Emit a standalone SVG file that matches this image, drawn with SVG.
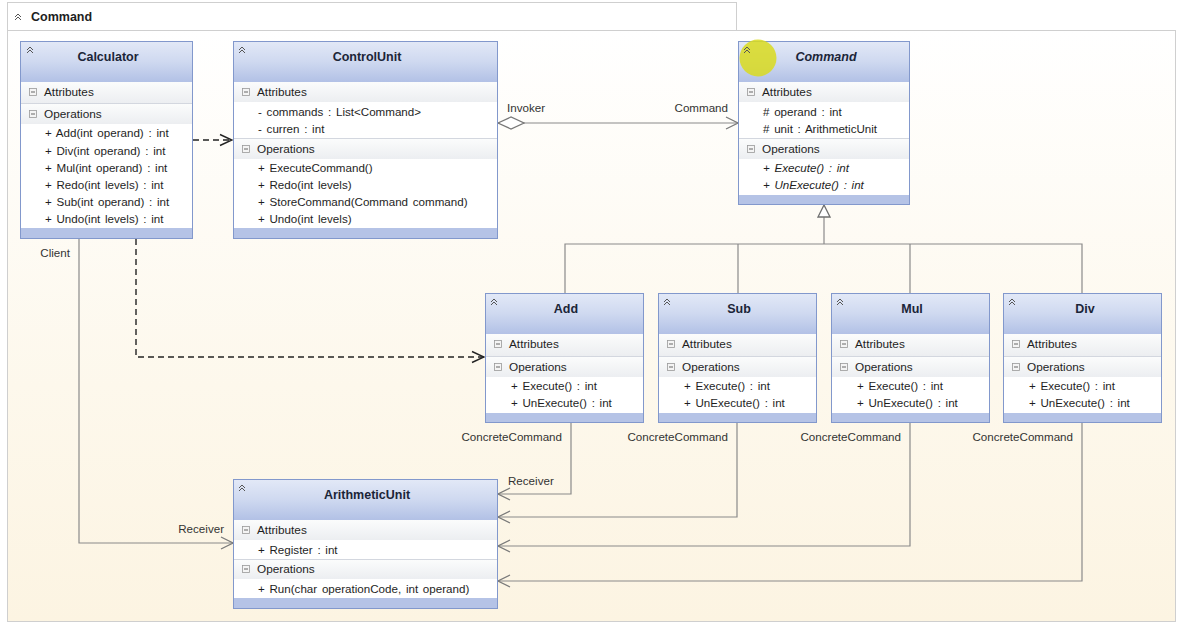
<svg xmlns="http://www.w3.org/2000/svg" width="1187" height="625" viewBox="0 0 1187 625">
<defs>
<linearGradient id="bg" x1="0" y1="0" x2="0" y2="1"><stop offset="0" stop-color="#ffffff"/><stop offset="0.6" stop-color="#fdf8ec"/><stop offset="1" stop-color="#fcf4e2"/></linearGradient>
<linearGradient id="hdr" x1="0" y1="0" x2="0" y2="1"><stop offset="0" stop-color="#e3e9f7"/><stop offset="0.5" stop-color="#cfd9f0"/><stop offset="1" stop-color="#b2c1e6"/></linearGradient>
<linearGradient id="sec" x1="0" y1="0" x2="0" y2="1"><stop offset="0" stop-color="#fbfcfc"/><stop offset="1" stop-color="#eceef1"/></linearGradient>
<marker id="open" viewBox="0 0 14 14" refX="13" refY="7" markerWidth="14" markerHeight="14" orient="auto" markerUnits="userSpaceOnUse"><path d="M1,1 L13,7 L1,13" fill="none" stroke="#7a7a7a" stroke-width="1.3"/></marker>
<marker id="openDark" viewBox="0 0 14 14" refX="13" refY="7" markerWidth="14" markerHeight="14" orient="auto" markerUnits="userSpaceOnUse"><path d="M1,1.5 L13,7 L1,12.5" fill="none" stroke="#222" stroke-width="1.4"/></marker>
<marker id="tri" viewBox="0 0 14 14" refX="13" refY="7" markerWidth="14" markerHeight="14" orient="auto" markerUnits="userSpaceOnUse"><path d="M1,1 L13,7 L1,13 Z" fill="#fff" stroke="#707070" stroke-width="1.3"/></marker>
<marker id="dia" viewBox="0 0 28 14" refX="1" refY="7" markerWidth="28" markerHeight="14" orient="auto" markerUnits="userSpaceOnUse"><path d="M1,7 L14,1 L27,7 L14,13 Z" fill="#fff" stroke="#777" stroke-width="1.3"/></marker>
</defs>
<style>
text{font-family:"Liberation Sans",Arial,sans-serif;fill:#1e1e1e}
.t{font-size:12.5px;font-weight:bold;text-anchor:middle;fill:#1b2538}
.s{font-size:11.8px}
.i{font-size:11.6px;word-spacing:1.5px}
.it{font-style:italic}
.lab{font-size:11.6px;fill:#333}
.end{text-anchor:end}
.box{fill:none;stroke:#8298cc;stroke-width:1}
.body{fill:#fff}
.hd{fill:url(#hdr)}
.sr{fill:url(#sec)}
.ft{fill:#b5c3e6}
.sep{stroke:#d3d7df;stroke-width:1}
.chev{fill:none;stroke:#555;stroke-width:1}
.ic{fill:#f4f4f4;stroke:#9a9a9a;stroke-width:0.8}
.icl{stroke:#666;stroke-width:1}
.solid{fill:none;stroke:#8a8a8a;stroke-width:1.2}
.dash{fill:none;stroke:#222;stroke-width:1.4;stroke-dasharray:6,4}
</style>
<rect x="0" y="0" width="1187" height="625" fill="#fff"/>
<rect x="7.5" y="30.5" width="1168" height="591" fill="url(#bg)" stroke="#cfcfcf"/>
<rect x="7.5" y="2.5" width="729" height="28" fill="#fff" stroke="#cfcfcf"/>
<path class="chev" d="M15,17 L18,14 L21,17 M15,20 L18,17 L21,20"/>
<text x="31" y="21" style="font-size:12.5px;font-weight:bold">Command</text>

<g id="connectors">
<path class="dash" d="M193,140 H232" marker-end="url(#openDark)"/>
<path class="dash" d="M136,239 V357 H484" marker-end="url(#openDark)"/>
<path class="solid" d="M79,239 V543 H233" marker-end="url(#open)"/>
<path class="solid" d="M498,123 H738" marker-start="url(#dia)" marker-end="url(#open)"/>
<path class="solid" d="M824,244 V205" marker-end="url(#tri)"/>
<path class="solid" d="M565,293 V244 H1082 V293 M738,244 V293 M910,244 V293"/>
<path class="solid" d="M571,423 V494 H498" marker-end="url(#open)"/>
<path class="solid" d="M737,423 V517 H498" marker-end="url(#open)"/>
<path class="solid" d="M910,423 V546 H498" marker-end="url(#open)"/>
<path class="solid" d="M1082,423 V581 H498" marker-end="url(#open)"/>
<text class="lab end" x="70" y="257">Client</text>
<text class="lab end" x="224" y="533">Receiver</text>
<text class="lab" x="507" y="112">Invoker</text>
<text class="lab end" x="728" y="112">Command</text>
<text class="lab end" x="562" y="441">ConcreteCommand</text>
<text class="lab end" x="728" y="441">ConcreteCommand</text>
<text class="lab end" x="901" y="441">ConcreteCommand</text>
<text class="lab end" x="1073" y="441">ConcreteCommand</text>
<text class="lab" x="508" y="485">Receiver</text>
</g>

<g id="calculator">
<rect class="body" x="20" y="41" width="173" height="198"/>
<rect class="hd" x="20" y="41" width="173" height="41"/>
<rect class="sr" x="20" y="82" width="173" height="21"/>
<rect class="sr" x="20" y="104" width="173" height="20"/>
<line class="sep" x1="20" y1="103.5" x2="193" y2="103.5"/>
<rect class="ft" x="20" y="228" width="173" height="11"/>
<rect class="box" x="20.5" y="41.5" width="172" height="197"/>
<path class="chev" d="M27,50 L30,47 L33,50 M27,53 L30,50 L33,53"/>
<text class="t" x="108" y="61">Calculator</text>
<rect class="ic" x="29.5" y="88.5" width="7" height="7"/><line class="icl" x1="31" y1="92" x2="35" y2="92"/>
<text class="s" x="44" y="96">Attributes</text>
<rect class="ic" x="29.5" y="110.5" width="7" height="7"/><line class="icl" x1="31" y1="114" x2="35" y2="114"/>
<text class="s" x="44" y="118">Operations</text>
<text class="i" x="45" y="137">+ Add(int operand) : int</text>
<text class="i" x="45" y="155">+ Div(int operand) : int</text>
<text class="i" x="45" y="172">+ Mul(int operand) : int</text>
<text class="i" x="45" y="189">+ Redo(int levels) : int</text>
<text class="i" x="45" y="206">+ Sub(int operand) : int</text>
<text class="i" x="45" y="223">+ Undo(int levels) : int</text>
</g>

<g id="controlunit">
<rect class="body" x="233" y="41" width="265" height="198"/>
<rect class="hd" x="233" y="41" width="265" height="41"/>
<rect class="sr" x="233" y="82" width="265" height="20"/>
<rect class="sr" x="233" y="139" width="265" height="20"/>
<line class="sep" x1="233" y1="138.5" x2="498" y2="138.5"/>
<rect class="ft" x="233" y="228" width="265" height="11"/>
<rect class="box" x="233.5" y="41.5" width="264" height="197"/>
<path class="chev" d="M239,50 L242,47 L245,50 M239,53 L242,50 L245,53"/>
<text class="t" x="367" y="61">ControlUnit</text>
<rect class="ic" x="242.5" y="88.5" width="7" height="7"/><line class="icl" x1="244" y1="92" x2="248" y2="92"/>
<text class="s" x="257" y="96">Attributes</text>
<text class="i" x="258" y="116">- commands : List&lt;Command&gt;</text>
<text class="i" x="258" y="133">- curren : int</text>
<rect class="ic" x="242.5" y="145.5" width="7" height="7"/><line class="icl" x1="244" y1="149" x2="248" y2="149"/>
<text class="s" x="257" y="153">Operations</text>
<text class="i" x="258" y="172">+ ExecuteCommand()</text>
<text class="i" x="258" y="189">+ Redo(int levels)</text>
<text class="i" x="258" y="206">+ StoreCommand(Command command)</text>
<text class="i" x="258" y="223">+ Undo(int levels)</text>
</g>

<g id="command">
<rect class="body" x="738" y="41" width="172" height="164"/>
<rect class="hd" x="738" y="41" width="172" height="41"/>
<rect class="sr" x="738" y="82" width="172" height="20"/>
<rect class="sr" x="738" y="139" width="172" height="20"/>
<line class="sep" x1="738" y1="138.5" x2="910" y2="138.5"/>
<rect class="ft" x="738" y="195" width="172" height="10"/>
<rect class="box" x="738.5" y="41.5" width="171" height="163"/>
<circle cx="758" cy="58" r="18.5" fill="#d9db1e" fill-opacity="0.85"/>
<path class="chev" d="M744,50 L747,47 L750,50 M744,53 L747,50 L750,53"/>
<text class="t it" x="826" y="61">Command</text>
<rect class="ic" x="747.5" y="88.5" width="7" height="7"/><line class="icl" x1="749" y1="92" x2="753" y2="92"/>
<text class="s" x="762" y="96">Attributes</text>
<text class="i" x="763" y="116"># operand : int</text>
<text class="i" x="763" y="133"># unit : ArithmeticUnit</text>
<rect class="ic" x="747.5" y="145.5" width="7" height="7"/><line class="icl" x1="749" y1="149" x2="753" y2="149"/>
<text class="s" x="762" y="153">Operations</text>
<text class="i it" x="763" y="172">+ Execute() : int</text>
<text class="i it" x="763" y="189">+ UnExecute() : int</text>
</g>

<g id="add">
<rect class="body" x="485" y="293" width="159" height="130"/>
<rect class="hd" x="485" y="293" width="159" height="41"/>
<rect class="sr" x="485" y="334" width="159" height="22"/>
<rect class="sr" x="485" y="357" width="159" height="20"/>
<line class="sep" x1="485" y1="356.5" x2="644" y2="356.5"/>
<rect class="ft" x="485" y="413" width="159" height="10"/>
<rect class="box" x="485.5" y="293.5" width="158" height="129"/>
<path class="chev" d="M491,302 L494,299 L497,302 M491,305 L494,302 L497,305"/>
<text class="t" x="566" y="313">Add</text>
<rect class="ic" x="494.5" y="340.5" width="7" height="7"/><line class="icl" x1="496" y1="344" x2="500" y2="344"/>
<text class="s" x="509" y="348">Attributes</text>
<rect class="ic" x="494.5" y="363.5" width="7" height="7"/><line class="icl" x1="496" y1="367" x2="500" y2="367"/>
<text class="s" x="509" y="371">Operations</text>
<text class="i" x="511" y="390">+ Execute() : int</text>
<text class="i" x="511" y="407">+ UnExecute() : int</text>
</g>

<g id="sub">
<rect class="body" x="658" y="293" width="159" height="130"/>
<rect class="hd" x="658" y="293" width="159" height="41"/>
<rect class="sr" x="658" y="334" width="159" height="22"/>
<rect class="sr" x="658" y="357" width="159" height="20"/>
<line class="sep" x1="658" y1="356.5" x2="817" y2="356.5"/>
<rect class="ft" x="658" y="413" width="159" height="10"/>
<rect class="box" x="658.5" y="293.5" width="158" height="129"/>
<path class="chev" d="M664,302 L667,299 L670,302 M664,305 L667,302 L670,305"/>
<text class="t" x="739" y="313">Sub</text>
<rect class="ic" x="667.5" y="340.5" width="7" height="7"/><line class="icl" x1="669" y1="344" x2="673" y2="344"/>
<text class="s" x="682" y="348">Attributes</text>
<rect class="ic" x="667.5" y="363.5" width="7" height="7"/><line class="icl" x1="669" y1="367" x2="673" y2="367"/>
<text class="s" x="682" y="371">Operations</text>
<text class="i" x="684" y="390">+ Execute() : int</text>
<text class="i" x="684" y="407">+ UnExecute() : int</text>
</g>

<g id="mul">
<rect class="body" x="831" y="293" width="159" height="130"/>
<rect class="hd" x="831" y="293" width="159" height="41"/>
<rect class="sr" x="831" y="334" width="159" height="22"/>
<rect class="sr" x="831" y="357" width="159" height="20"/>
<line class="sep" x1="831" y1="356.5" x2="990" y2="356.5"/>
<rect class="ft" x="831" y="413" width="159" height="10"/>
<rect class="box" x="831.5" y="293.5" width="158" height="129"/>
<path class="chev" d="M837,302 L840,299 L843,302 M837,305 L840,302 L843,305"/>
<text class="t" x="912" y="313">Mul</text>
<rect class="ic" x="840.5" y="340.5" width="7" height="7"/><line class="icl" x1="842" y1="344" x2="846" y2="344"/>
<text class="s" x="855" y="348">Attributes</text>
<rect class="ic" x="840.5" y="363.5" width="7" height="7"/><line class="icl" x1="842" y1="367" x2="846" y2="367"/>
<text class="s" x="855" y="371">Operations</text>
<text class="i" x="857" y="390">+ Execute() : int</text>
<text class="i" x="857" y="407">+ UnExecute() : int</text>
</g>

<g id="div">
<rect class="body" x="1003" y="293" width="159" height="130"/>
<rect class="hd" x="1003" y="293" width="159" height="41"/>
<rect class="sr" x="1003" y="334" width="159" height="22"/>
<rect class="sr" x="1003" y="357" width="159" height="20"/>
<line class="sep" x1="1003" y1="356.5" x2="1162" y2="356.5"/>
<rect class="ft" x="1003" y="413" width="159" height="10"/>
<rect class="box" x="1003.5" y="293.5" width="158" height="129"/>
<path class="chev" d="M1009,302 L1012,299 L1015,302 M1009,305 L1012,302 L1015,305"/>
<text class="t" x="1085" y="313">Div</text>
<rect class="ic" x="1012.5" y="340.5" width="7" height="7"/><line class="icl" x1="1014" y1="344" x2="1018" y2="344"/>
<text class="s" x="1027" y="348">Attributes</text>
<rect class="ic" x="1012.5" y="363.5" width="7" height="7"/><line class="icl" x1="1014" y1="367" x2="1018" y2="367"/>
<text class="s" x="1027" y="371">Operations</text>
<text class="i" x="1029" y="390">+ Execute() : int</text>
<text class="i" x="1029" y="407">+ UnExecute() : int</text>
</g>

<g id="arithmeticunit">
<rect class="body" x="233" y="479" width="265" height="130"/>
<rect class="hd" x="233" y="479" width="265" height="41"/>
<rect class="sr" x="233" y="520" width="265" height="20"/>
<rect class="sr" x="233" y="560" width="265" height="19"/>
<line class="sep" x1="233" y1="559.5" x2="498" y2="559.5"/>
<rect class="ft" x="233" y="598" width="265" height="11"/>
<rect class="box" x="233.5" y="479.5" width="264" height="129"/>
<path class="chev" d="M239,488 L242,485 L245,488 M239,491 L242,488 L245,491"/>
<text class="t" x="367" y="499">ArithmeticUnit</text>
<rect class="ic" x="242.5" y="526.5" width="7" height="7"/><line class="icl" x1="244" y1="530" x2="248" y2="530"/>
<text class="s" x="257" y="534">Attributes</text>
<text class="i" x="258" y="554">+ Register : int</text>
<rect class="ic" x="242.5" y="565.5" width="7" height="7"/><line class="icl" x1="244" y1="569" x2="248" y2="569"/>
<text class="s" x="257" y="573">Operations</text>
<text class="i" x="258" y="593">+ Run(char operationCode, int operand)</text>
</g>
</svg>
